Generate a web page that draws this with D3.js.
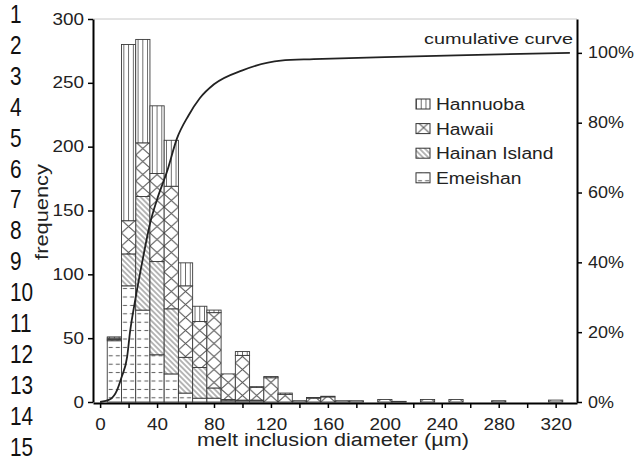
<!DOCTYPE html>
<html>
<head>
<meta charset="utf-8">
<script src="https://cdn.jsdelivr.net/npm/d3@7"></script>
<style>
  body { margin: 0; background: #fff; }
  svg { font-family: "Liberation Sans", Arial, sans-serif; }
</style>
</head>
<body>
<script>
// bin centres (um) and counts per locality
var binMid = d3.range(10, 321, 10)
var emeishan = [48,91,72,37,22,7,3,3,1,1,1,0,0,0,0,0,0,0,0,0,0,0,0,0,0,0,0,0,0,0,0,0]
var hainan   = [1,25,89,73,51,28,24,8,1,0.5,0.5,0,0,0,0,0,0,0,0,0,0,0,0,0,0,0,0,0,0,0,0,0]
var hawaii   = [1,26,42,69,96,56,36,59,20,35,10,19,6,1,3,4,1,1,0,2,0.5,0,2,0,2,0,0,1,0,0,0,1.5]
var hannuoba = [1,138,81,53,36,18,12,2,0,3,0.5,1,1,0,0.5,0.5,0,0,0,0,0,0,0,0,0,0,0,0,0,0,0,0]

// cumulative curve
var cumDiam = [0,7,12,15,19,21,25,30,35,40,47,54,62,70,80,100,127,150,200,250,330]
var cumPct  = [0,0.008,0.035,0.07,0.13,0.2,0.3,0.41,0.51,0.58,0.66,0.755,0.82,0.87,0.91,0.95,0.978,0.982,0.988,0.993,1.0]

var freqTicks = [0,50,100,150,200,250,300]
var diamTicks = d3.range(0, 321, 20)
var pctTicks  = [0,0.2,0.4,0.6,0.8,1]

var keys = ["Emeishan", "Hainan Island", "Hawaii", "Hannuoba"]
var series = { "Emeishan": emeishan, "Hainan Island": hainan, "Hawaii": hawaii, "Hannuoba": hannuoba }
var patId = { "Emeishan": "pEm", "Hainan Island": "pHn", "Hawaii": "pHw", "Hannuoba": "pHb" }
var legendOrder = ["Hannuoba", "Hawaii", "Hainan Island", "Emeishan"]

var w = 639, h = 460
var mLeft = 93, mRight = 577, mTop = 19, mBottom = 402

var svg = d3.select("body").append("svg")
  .attr("width", w)
  .attr("height", h)

var x = d3.scaleLinear().domain([-5, 335]).range([mLeft, mRight])
var y = d3.scaleLinear().domain([0, 300]).range([mBottom, mTop])
var yR = d3.scaleLinear().domain([0, 1.097]).range([mBottom, mTop])

// stretch text horizontally like the original
function widen(sel, k) {
  sel.each(function () {
    var len = this.getComputedTextLength()
    if (len > 0) d3.select(this).attr("textLength", len * k).attr("lengthAdjust", "spacingAndGlyphs")
  })
}

// patterns
var defs = svg.append("defs")
var binW = x(10) - x(0)
var pc = "#5a5a5a"

var p = defs.append("pattern").attr("id", "pHb").attr("patternUnits", "userSpaceOnUse")
  .attr("width", binW / 3).attr("height", 10).attr("x", x(5))
p.append("rect").attr("width", binW / 3).attr("height", 10).attr("fill", "#fff")
p.append("line").attr("x1", binW / 6).attr("x2", binW / 6).attr("y1", 0).attr("y2", 10)
  .attr("stroke", pc).attr("stroke-width", 0.9)

p = defs.append("pattern").attr("id", "pHw").attr("patternUnits", "userSpaceOnUse")
  .attr("width", binW).attr("height", 13).attr("x", x(5)).attr("y", mBottom)
p.append("rect").attr("width", binW).attr("height", 13).attr("fill", "#fff")
p.append("path").attr("d", "M0,0L" + binW + ",13M" + binW + ",0L0,13")
  .attr("stroke", pc).attr("stroke-width", 1).attr("fill", "none")

p = defs.append("pattern").attr("id", "pHn").attr("patternUnits", "userSpaceOnUse")
  .attr("width", 3.8).attr("height", 10).attr("patternTransform", "rotate(-45)")
p.append("rect").attr("width", 3.8).attr("height", 10).attr("fill", "#fff")
p.append("line").attr("x1", 1.9).attr("x2", 1.9).attr("y1", 0).attr("y2", 10)
  .attr("stroke", pc).attr("stroke-width", 0.9)

p = defs.append("pattern").attr("id", "pEm").attr("patternUnits", "userSpaceOnUse")
  .attr("width", binW / 2).attr("height", 8.4).attr("x", x(5)).attr("y", mBottom)
p.append("rect").attr("width", binW / 2).attr("height", 8.4).attr("fill", "#fff")
p.append("line").attr("x1", 1.5).attr("x2", 5.5).attr("y1", 4.2).attr("y2", 4.2)
  .attr("stroke", pc).attr("stroke-width", 1)

// table for the stack
var table = binMid.map(function (m, i) {
  var row = { mid: m }
  keys.forEach(function (k) { row[k] = series[k][i] })
  return row
})
var stacked = d3.stack().keys(keys)(table)

svg.selectAll("g.layer")
  .data(stacked)
  .enter()
  .append("g")
  .attr("class", "layer")
  .attr("fill", function (d) { return "url(#" + patId[d.key] + ")" })
  .selectAll("rect")
  .data(function (d) { return d.filter(function (s) { return s[1] - s[0] > 0 }) })
  .enter()
  .append("rect")
  .attr("x", function (d) { return x(d.data.mid - 5) })
  .attr("width", binW)
  .attr("y", function (d) { return y(d[1]) })
  .attr("height", function (d) { return y(d[0]) - y(d[1]) })
  .attr("stroke", "#3a3a3a")
  .attr("stroke-width", 0.9)

// cumulative curve
var line = d3.line()
  .x(function (d, i) { return x(cumDiam[i]) })
  .y(function (d) { return yR(d) })
  .curve(d3.curveMonotoneX)

svg.append("path")
  .datum(cumPct)
  .attr("d", line)
  .attr("fill", "none")
  .attr("stroke", "#222")
  .attr("stroke-width", 1.8)

// frame top
svg.append("line").attr("x1", mLeft).attr("x2", mRight).attr("y1", mTop).attr("y2", mTop)
  .attr("stroke", "#c8c8c8").attr("stroke-width", 1)

// axes
var gx = svg.append("g").attr("transform", "translate(0," + (mBottom + 1) + ")")
  .call(d3.axisBottom(x).tickValues(diamTicks).tickSize(5).tickSizeOuter(0)
    .tickFormat(function (d) { return d % 40 == 0 ? d : "" }))
var gy = svg.append("g").attr("transform", "translate(" + mLeft + ",0)")
  .call(d3.axisLeft(y).tickValues(freqTicks).tickSize(5).tickSizeOuter(0))
var gr = svg.append("g").attr("transform", "translate(" + mRight + ",0)")
  .call(d3.axisRight(yR).tickValues(pctTicks).tickSize(5).tickSizeOuter(0)
    .tickFormat(d3.format(".0%")))

;[gx, gy, gr].forEach(function (g) {
  g.select(".domain").attr("stroke", "#000").attr("stroke-width", 2)
  g.selectAll(".tick line").attr("stroke", "#000").attr("stroke-width", 1.5)
  g.selectAll(".tick text").attr("font-size", 16).attr("fill", "#222")
    .attr("font-family", "Liberation Sans, Arial, sans-serif")
})
gx.selectAll(".tick text").attr("dy", "1.17em")
gy.selectAll(".tick text").attr("x", -9)
gr.selectAll(".tick text").attr("x", 11)
widen(gx.selectAll(".tick text"), 1.18)
widen(gy.selectAll(".tick text"), 1.18)
widen(gr.selectAll(".tick text"), 1.12)

// axis titles
var t = svg.append("text").attr("x", (mLeft + mRight) / 2 - 2).attr("y", 446)
  .attr("text-anchor", "middle").attr("font-size", 18).attr("fill", "#222")
  .text("melt inclusion diameter (\u00b5m)")
widen(t, 1.2)

t = svg.append("text").attr("transform", "translate(48,212) rotate(-90)")
  .attr("text-anchor", "middle").attr("font-size", 18.5).attr("fill", "#222")
  .text("frequency")
widen(t, 1.18)

t = svg.append("text").attr("x", 573).attr("y", 44)
  .attr("text-anchor", "end").attr("font-size", 15.5).attr("fill", "#222")
  .text("cumulative curve")
widen(t, 1.28)

// legend
var leg = svg.selectAll("g.legend")
  .data(legendOrder)
  .enter()
  .append("g")
  .attr("class", "legend")
  .attr("transform", function (d, i) { return "translate(416," + (104 + i * 24.6) + ")" })
leg.append("rect").attr("x", 0).attr("y", -5).attr("width", 14).attr("height", 10)
  .attr("fill", function (d) { return "url(#" + patId[d] + ")" })
  .attr("stroke", "#333").attr("stroke-width", 1)
var lt = leg.append("text").attr("x", 20).attr("y", 6)
  .attr("font-size", 16).attr("fill", "#222")
  .text(function (d) { return d })
widen(lt, 1.2)

// manuscript line numbers
var lineNums = d3.range(1, 16)
var ln = svg.selectAll("text.lineno")
  .data(lineNums)
  .enter()
  .append("text")
  .attr("class", "lineno")
  .attr("x", 10)
  .attr("y", function (d) { return 23 + (d - 1) * 30.9 })
  .attr("font-size", 26)
  .attr("fill", "#111")
  .text(function (d) { return d })
widen(ln, 0.8)
</script>
</body>
</html>
